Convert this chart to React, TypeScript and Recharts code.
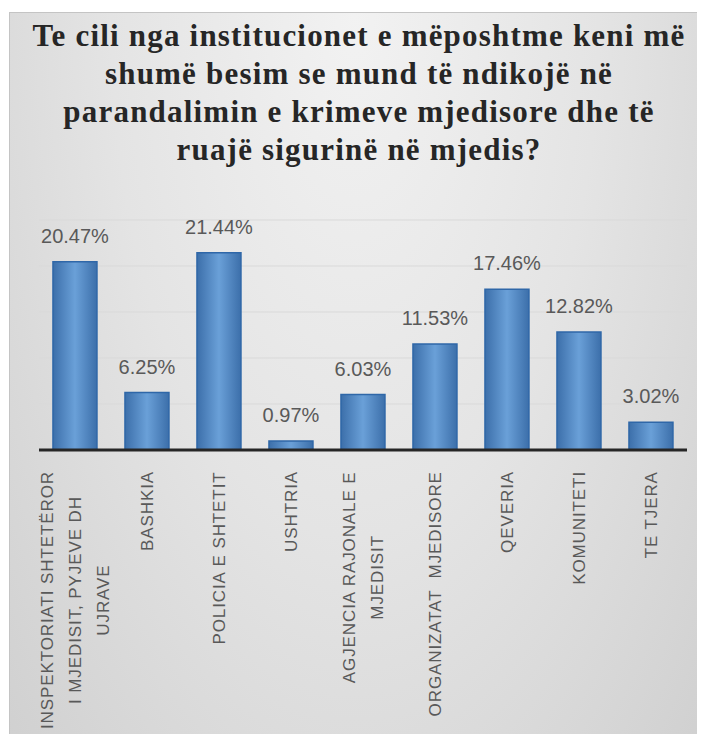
import { BarChart, Bar, XAxis, YAxis, CartesianGrid, LabelList } from 'recharts';

// ─── Data ─────────────────────────────────────────────────────────────────────

const title = [
  'Te cili nga institucionet e mëposhtme keni më',
  'shumë besim se mund të ndikojë në',
  'parandalimin e krimeve mjedisore dhe të',
  'ruajë sigurinë në mjedis?',
];

const categories = [
  'INSPEKTORIATI SHTETËROR\nI MJEDISIT, PYJEVE DH\nUJRAVE',
  'BASHKIA',
  'POLICIA E SHTETIT',
  'USHTRIA',
  'AGJENCIA RAJONALE E\nMJEDISIT',
  'ORGANIZATAT  MJEDISORE',
  'QEVERIA',
  'KOMUNITETI',
  'TE TJERA',
];

const shares = [20.47, 6.25, 21.44, 0.97, 6.03, 11.53, 17.46, 12.82, 3.02];

const yTicks = [0, 5, 10, 15, 20, 25];

const data = categories.map((name, i) => ({ name, value: shares[i] }));

// ─── Helpers ──────────────────────────────────────────────────────────────────

const TICK_FONT = "17px 'Liberation Sans'";
const TICK_SPACING = 0.9;

let ctx: CanvasRenderingContext2D | null = null;
function measure(text: string): number {
  if (!ctx) ctx = document.createElement('canvas').getContext('2d');
  if (!ctx) return text.length * 10;
  ctx.font = TICK_FONT;
  return ctx.measureText(text).width + text.length * TICK_SPACING;
}

// rotated, multi-line category label; lines centred on each other, block top-aligned
function CategoryTick({ x, y, payload }: any) {
  const lines: string[] = String(payload.value).split('\n');
  const maxW = Math.max(...lines.map(measure));
  const gap = 28;
  return (
    <g transform={`translate(${x},${y + 13}) rotate(-90)`}>
      {lines.map((line, i) => (
        <text
          key={i}
          x={-maxW / 2}
          y={(i - (lines.length - 1) / 2) * gap}
          textAnchor="middle"
          dominantBaseline="central"
          fill="#595959"
          fontFamily="'Liberation Sans', sans-serif"
          fontSize={17}
          letterSpacing={TICK_SPACING}
          style={{ whiteSpace: 'pre' }}
        >
          {line}
        </text>
      ))}
    </g>
  );
}

export default function App() {
  return (
    <div style={{ position: 'relative', width: 705, height: 742, margin: -8, background: '#fff', overflow: 'hidden' }}>
      <div
        style={{
          position: 'absolute',
          left: 9,
          top: 12,
          width: 690,
          height: 740,
          border: '1px solid #c4c4c4',
          background: 'radial-gradient(ellipse at 50% 0%, #f2f2f2 0%, #e4e4e4 50%, #d0d0d0 100%)',
        }}
      />
      <div
        style={{
          position: 'absolute',
          left: 9,
          top: 17,
          width: 700,
          textAlign: 'center',
          fontFamily: "'Liberation Serif', 'Times New Roman', 'DejaVu Serif', serif",
          fontWeight: 'bold',
          fontSize: 31,
          letterSpacing: 1.2,
          lineHeight: '38px',
          color: '#262626',
        }}
      >
        {title.map((t, i) => (
          <div key={i}>{t}</div>
        ))}
      </div>
      <BarChart
        width={705}
        height={742}
        data={data}
        margin={{ top: 220, right: 18, bottom: 32, left: 39 }}
        barCategoryGap="19.4%"
        style={{ position: 'absolute', left: 0, top: 0 }}
      >
        <defs>
          <linearGradient id="barFill" x1="0" y1="0" x2="1" y2="0">
            <stop offset="0%" stopColor="#3c6faa" />
            <stop offset="50%" stopColor="#6aa0d8" />
            <stop offset="100%" stopColor="#3c6faa" />
          </linearGradient>
        </defs>
        <CartesianGrid vertical={false} stroke="#d9d9d9" strokeWidth={1} />
        <YAxis hide domain={[0, 25]} ticks={yTicks} />
        <XAxis
          dataKey="name"
          interval={0}
          height={260}
          tickLine={false}
          axisLine={{ stroke: '#262626', strokeWidth: 3 }}
          tick={<CategoryTick />}
        />
        <Bar dataKey="value" fill="url(#barFill)" stroke="#2f67a8" strokeWidth={1.5} isAnimationActive={false}>
          <LabelList
            dataKey="value"
            position="top"
            offset={19}
            formatter={(v: any) => `${Number(v).toFixed(2)}%`}
            fill="#595959"
            fontSize={20}
            fontFamily="'Liberation Sans', sans-serif"
          />
        </Bar>
      </BarChart>
    </div>
  );
}
